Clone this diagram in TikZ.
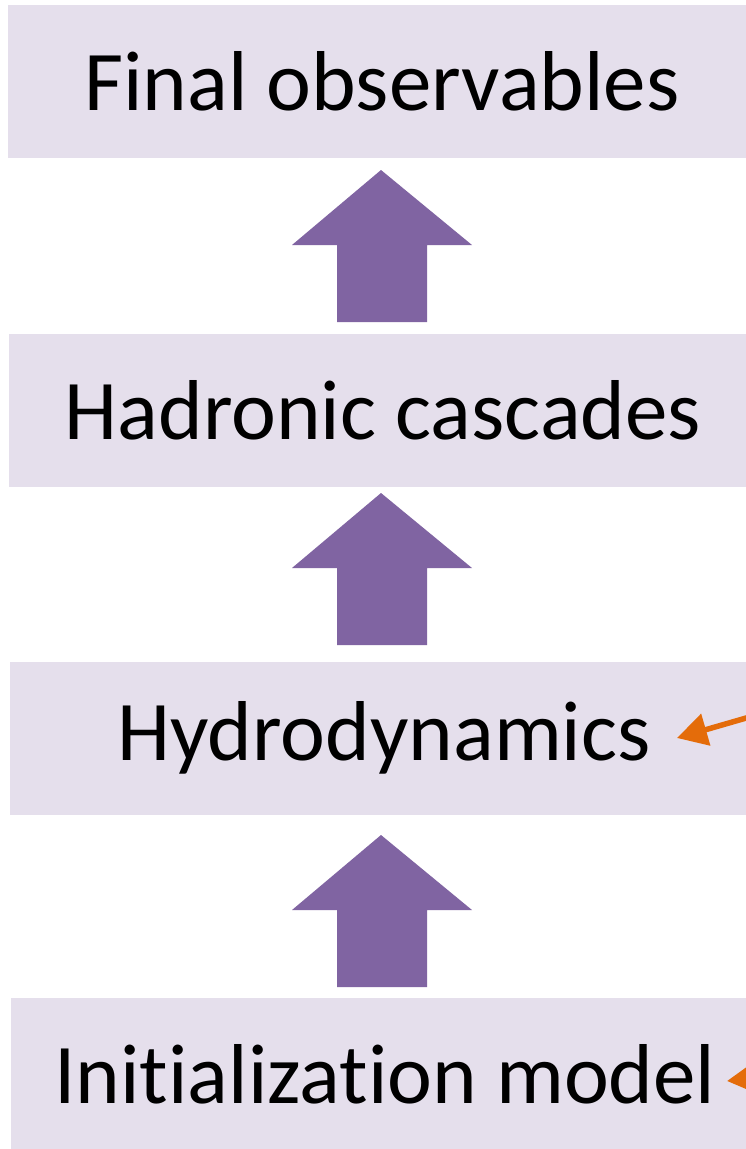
\documentclass[tikz,border=0pt]{standalone}
\usepackage{fontspec}
\setmainfont{Carlito}[Ligatures={NoCommon,NoDiscretionary,NoRare}]
\definecolor{boxfill}{HTML}{E5DFEC}
\definecolor{arrowpurple}{HTML}{8064A2}
\definecolor{orangeline}{HTML}{E46C0A}
\usetikzlibrary{arrows.meta}
\begin{document}
\begin{tikzpicture}[x=1pt,y=-1pt,
  stage/.style={fill=boxfill, minimum width=748pt, minimum height=153pt, inner sep=0pt, font=\fontsize{85}{90}\selectfont, text=black},
  blockarrow/.style={fill=arrowpurple},
  orangearrow/.style={draw=orangeline, line width=5.5pt, -{Triangle[length=30pt,width=32pt]}}]
\clip (0,0) rectangle (746,1149);
\fill[white] (0,0) rectangle (746,1149);
\node[stage] (final) at (382,81.5) {Final observables};
\node[stage] (hadron) at (383,410) {Hadronic cascades};
\node[stage] (hydro) at (384,738) {Hydrodynamics};
\node[stage] (init) at (385,1074) {Initialization model};
% block arrows
\foreach \yt/\yb in {170/322, 493/645, 835/987}{
  \fill[blockarrow] (381,\yt) -- (472,\yt+75) -- (427,\yt+75) -- (427,\yb) -- (337,\yb) -- (337,\yt+75) -- (292,\yt+75) -- cycle;
}
% orange arrows
\coordinate (o1) at (760,714);
\coordinate (t1) at (677,738);
\draw[orangearrow] (o1) -- (t1);
\coordinate (o2) at (790,1074);
\coordinate (t2) at (727,1081);
\draw[orangearrow] (o2) -- (t2);
\end{tikzpicture}
\end{document}
